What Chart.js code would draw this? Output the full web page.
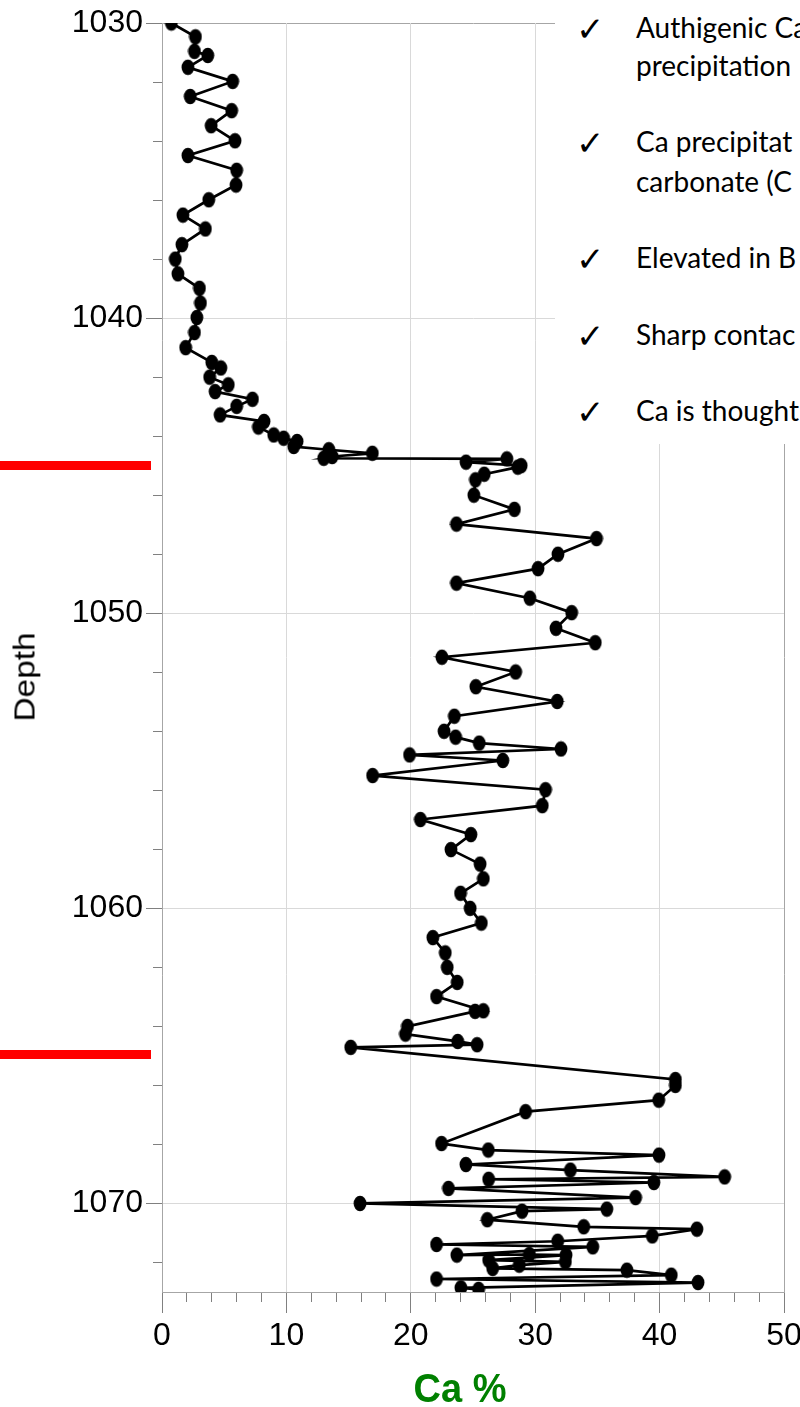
<!DOCTYPE html>
<html>
<head>
<meta charset="utf-8">
<title>Ca % vs Depth</title>
<script src="https://cdn.jsdelivr.net/npm/chart.js@4.4.1/dist/chart.umd.min.js"></script>
<style>
  html, body { margin: 0; padding: 0; background: #fff; overflow: hidden; }
  #wrap { position: relative; width: 800px; height: 1407px; }
  #chart { position: absolute; left: 0; top: 0; }
  .redline { position: absolute; left: 0; width: 151px; height: 9px; background: #ff0000; }
  .axtitle { position: absolute; white-space: nowrap; line-height: 1;
             font-family: "Liberation Sans", Arial, sans-serif; }
  #ytitle { left: 24.5px; top: 677px; font-size: 29px; color: #000;
            transform: translate(-50%, -50%) rotate(-90deg) scaleX(1.15); }
  #xtitle { left: 460px; top: 1388px; font-size: 38px; font-weight: bold; color: #008000;
            transform: translate(-50%, -50%) scaleY(1.09); }
  #notes { position: absolute; left: 555px; top: 0; width: 245px; height: 444px;
           background: #fff; overflow: hidden; font-family: Lato, "Open Sans", sans-serif;
           font-size: 28px; color: #000; }
  #notes .ln { position: absolute; left: 81px; white-space: nowrap; line-height: 1; }
  #notes .ck { position: absolute; left: 21px; font-family: "DejaVu Sans", sans-serif;
               font-size: 34px; line-height: 1; }
</style>
</head>
<body>
<div id="wrap">
  <canvas id="chart" width="800" height="1407"></canvas>
  <div class="redline" style="top:461px"></div>
  <div class="redline" style="top:1050px"></div>
  <div class="axtitle" id="ytitle">Depth</div>
  <div class="axtitle" id="xtitle">Ca %</div>
  <div id="notes"></div>
</div>
<script>
/* ---------- DATA ---------- */
const depths = [
  1030.0, 1030.47, 1030.96, 1031.1, 1031.5, 1031.98, 1032.49, 1032.97, 1033.48, 1033.99,
  1034.49, 1034.99, 1035.49, 1035.99, 1036.51, 1036.98, 1037.51, 1038.0, 1038.5, 1038.99,
  1039.49, 1039.98, 1040.49, 1041.0, 1041.5, 1041.69, 1042.0, 1042.26, 1042.49, 1042.75,
  1042.99, 1043.28, 1043.5, 1043.69, 1043.96, 1044.07, 1044.18, 1044.35, 1044.46, 1044.58,
  1044.69, 1044.75, 1044.77, 1044.88, 1045.0, 1045.05, 1045.29, 1045.48, 1046.0, 1046.48,
  1046.98, 1047.47, 1048.0, 1048.49, 1048.98, 1049.49, 1049.98, 1050.51, 1051.0, 1051.49,
  1051.99, 1052.49, 1052.99, 1053.49, 1054.0, 1054.2, 1054.4, 1054.6, 1054.8, 1054.99,
  1055.5, 1055.98, 1056.52, 1056.99, 1057.5, 1058.01, 1058.5, 1059.0, 1059.49, 1060.0,
  1060.5, 1060.99, 1061.51, 1062.0, 1062.51, 1062.99, 1063.47, 1063.49, 1064.0, 1064.26,
  1064.51, 1064.62, 1064.71, 1065.8, 1066.0, 1066.5, 1066.89, 1067.97, 1068.19, 1068.36,
  1068.68, 1068.87, 1069.1, 1069.18, 1069.29, 1069.49, 1069.8, 1070.0, 1070.19, 1070.26,
  1070.55, 1070.79, 1070.87, 1071.1, 1071.28, 1071.39, 1071.47, 1071.75, 1071.73, 1071.75,
  1071.92, 1071.98, 1072.09, 1072.2, 1072.26, 1072.43, 1072.56, 1072.68, 1072.86, 1072.91
];

const caPct = [
  0.75, 2.69, 2.61, 3.68, 2.08, 5.68, 2.27, 5.6, 3.95, 5.87,
  2.08, 6.0, 5.95, 3.76, 1.68, 3.49, 1.6, 1.07, 1.28, 3.01,
  3.09, 2.8, 2.61, 1.9, 4.0, 4.73, 3.83, 5.33, 4.27, 7.27,
  6.0, 4.67, 8.2, 7.75, 8.98, 9.78, 10.86, 10.59, 13.41, 16.91,
  13.68, 13.0, 27.72, 24.44, 28.87, 28.6, 25.9, 25.2, 25.07, 28.33,
  23.67, 34.93, 31.83, 30.23, 23.67, 29.57, 32.93, 31.67, 34.83, 22.5,
  28.43, 25.23, 31.77, 23.5, 22.67, 23.6, 25.5, 32.07, 19.9, 27.4,
  16.93, 30.83, 30.57, 20.77, 24.83, 23.23, 25.57, 25.83, 24.0, 24.77,
  25.67, 21.77, 22.77, 22.93, 23.73, 22.07, 25.83, 25.17, 19.73, 19.57,
  23.77, 25.33, 15.17, 41.27, 41.27, 39.93, 29.23, 22.47, 26.23, 39.95,
  24.43, 32.83, 45.23, 26.26, 39.54, 23.03, 38.07, 15.92, 35.76, 28.94,
  26.15, 33.9, 43.0, 39.41, 31.81, 22.07, 34.63, 23.7, 29.53, 32.48,
  26.26, 32.43, 28.72, 26.58, 37.37, 40.94, 22.07, 43.09, 24.03, 25.45
];

const depthMin = 1030;
const depthMax = 1073;
const caMin = 0;
const caMax = 50;

const notes = [
  ["Authigenic Ca", "precipitation"],
  ["Ca precipitat", "carbonate (C"],
  ["Elevated in B"],
  ["Sharp contac"],
  ["Ca is thought"]
];

/* ---------- NOTES BOX ---------- */
const noteBaselines = [[38, 76], [152, 192], [268], [345], [421]];
const notesEl = document.getElementById("notes");
notes.forEach((lines, i) => {
  const ck = document.createElement("div");
  ck.className = "ck";
  ck.textContent = "\u2713";
  ck.style.top = (noteBaselines[i][0] - 26) + "px";
  notesEl.appendChild(ck);
  lines.forEach((t, j) => {
    const d = document.createElement("div");
    d.className = "ln";
    d.textContent = t;
    d.style.top = (noteBaselines[i][j] - 25) + "px";
    notesEl.appendChild(d);
  });
});

/* ---------- POINT STYLE (slightly tall ellipse) ---------- */
const dot = document.createElement("canvas");
dot.width = 14;
dot.height = 17;
const dctx = dot.getContext("2d");
dctx.fillStyle = "#000";
dctx.beginPath();
dctx.ellipse(7, 8.5, 6.4, 7.8, 0, 0, Math.PI * 2);
dctx.fill();

/* ---------- CHART ---------- */
const points = depths.map((d, i) => ({ x: caPct[i], y: d }));
const tickFont = { family: "'Liberation Sans', Arial", size: 32 };
const gridLight = "#d9d9d9";
const axisGray = "#a6a6a6";
const tickGray = "#808080";

new Chart(document.getElementById("chart"), {
  type: "scatter",
  data: {
    datasets: [{
      data: points,
      showLine: true,
      borderColor: "#000",
      borderWidth: 2.7,
      pointStyle: dot,
      pointRadius: 7,
      pointHoverRadius: 7,
      backgroundColor: "#000",
      tension: 0,
      clip: 0
    }]
  },
  options: {
    responsive: false,
    animation: false,
    devicePixelRatio: 1,
    layout: { padding: { top: 23, right: 16, left: 0, bottom: 0 } },
    plugins: { legend: { display: false }, tooltip: { enabled: false } },
    scales: {
      y: {
        position: "left",
        reverse: true,
        min: depthMin,
        max: depthMax,
        weight: 1,
        ticks: { stepSize: 10, includeBounds: false, color: "#000", padding: 3, font: tickFont,
                 callback: v => String(v) },
        grid: {
          color: c => (c.tick && c.tick.value === depthMin ? axisGray : gridLight),
          tickColor: tickGray,
          tickLength: 16
        },
        border: { color: axisGray },
        afterFit: s => { s.width = 162; s.paddingTop = 0; s.paddingBottom = 0; }
      },
      yMinor: {
        position: "left",
        reverse: true,
        min: depthMin,
        max: depthMax,
        weight: 0,
        ticks: { stepSize: 2, includeBounds: false, display: false },
        grid: { drawOnChartArea: false, tickLength: 9, tickColor: tickGray },
        border: { display: false },
        afterFit: s => { s.width = 0; }
      },
      x: {
        position: "bottom",
        min: caMin,
        max: caMax,
        weight: 1,
        ticks: { stepSize: 10, includeBounds: false, color: "#000", padding: 4, font: tickFont,
                 maxRotation: 0, callback: v => String(v) },
        grid: {
          color: c => (c.tick && c.tick.value === caMax ? axisGray : gridLight),
          tickColor: tickGray,
          tickLength: 21
        },
        border: { color: axisGray },
        afterFit: s => { s.height = 115; s.paddingLeft = 0; s.paddingRight = 0; }
      },
      xMinor: {
        position: "bottom",
        min: caMin,
        max: caMax,
        weight: 0,
        ticks: { stepSize: 2, includeBounds: false, display: false },
        grid: { drawOnChartArea: false, tickLength: 10, tickColor: tickGray },
        border: { display: false },
        afterFit: s => { s.height = 0; }
      }
    }
  }
});
</script>
</body>
</html>
